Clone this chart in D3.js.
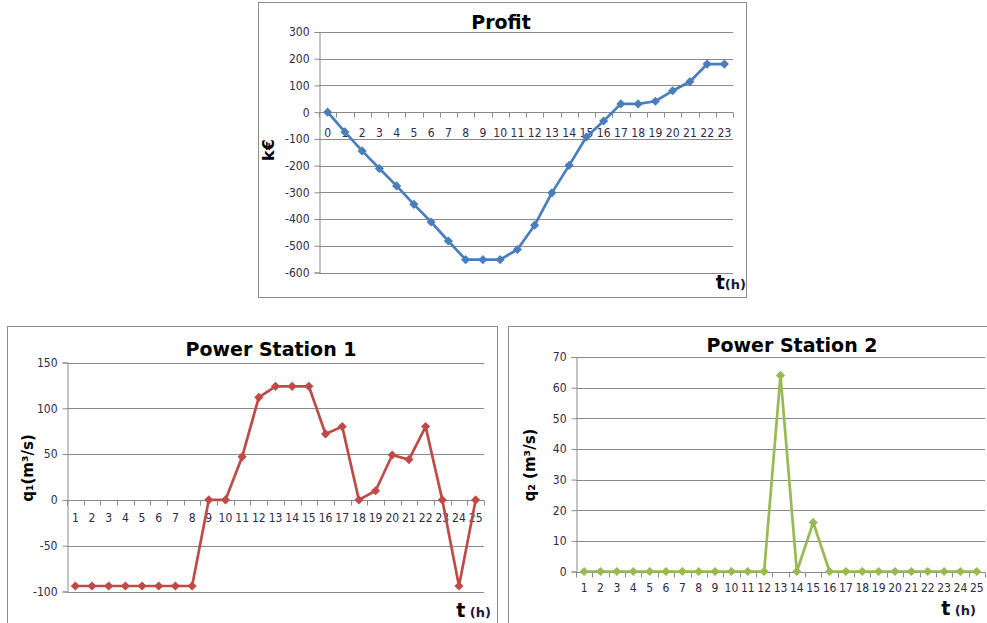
<!DOCTYPE html>
<html>
<head>
<meta charset="utf-8">
<script src="https://cdn.jsdelivr.net/npm/d3@7"></script>
<style>
  html, body { margin: 0; padding: 0; background: #fff; }
  svg { display: block; }
  text { font-family: "DejaVu Sans Condensed", "DejaVu Sans", sans-serif; }
</style>
</head>
<body>
<svg id="chart" width="987" height="623"></svg>
<script>
// ---- Data ----
const profitHours = d3.range(0, 24).map(String);
const profitValues = [0, -74, -145, -211, -276, -345, -411, -482, -552, -552, -552, -514, -423, -302, -199, -93, -33, 31, 31, 41, 80, 114, 180, 180];
const profitTicks = [300, 200, 100, 0, -100, -200, -300, -400, -500, -600];

const stationHours = d3.range(1, 26).map(String);
const station1Values = [-94, -94, -94, -94, -94, -94, -94, -94, 0, 0, 47, 112, 124, 124, 124, 72, 80, 0, 10, 49, 44, 80, 0, -94, 0];
const station1Ticks = [150, 100, 50, 0, -50, -100];
const station2Values = [0, 0, 0, 0, 0, 0, 0, 0, 0, 0, 0, 0, 64, 0, 16, 0, 0, 0, 0, 0, 0, 0, 0, 0, 0];
const station2Ticks = [70, 60, 50, 40, 30, 20, 10, 0];

const svg = d3.select("#chart");
const tickFont = '"DejaVu Sans Condensed", "DejaVu Sans", sans-serif';

function drawChart(cfg) {
  const g = svg.append("g");
  // outer border
  g.append("rect")
    .attr("x", cfg.box[0] + 0.5).attr("y", cfg.box[1] + 0.5)
    .attr("width", cfg.box[2]).attr("height", cfg.box[3])
    .attr("fill", "#fff").attr("stroke", "#8c8c8c").attr("stroke-width", 1);

  const x = d3.scaleBand().domain(cfg.cats).range([cfg.plot.left, cfg.plot.right]).padding(0);
  const y = d3.scaleLinear().domain(cfg.yDomain).range([cfg.plot.bottom, cfg.plot.top]);

  // gridlines
  g.append("g").selectAll("line").data(cfg.yTicks).join("line")
    .attr("x1", cfg.plot.left).attr("x2", cfg.plot.right)
    .attr("y1", d => Math.round(y(d)) + 0.5).attr("y2", d => Math.round(y(d)) + 0.5)
    .attr("stroke", "#8a8a8a").attr("stroke-width", 1);

  // y axis
  const yAxis = g.append("g")
    .attr("transform", `translate(${Math.round(cfg.plot.left) + 0.5},0)`)
    .call(d3.axisLeft(y).tickValues(cfg.yTicks).tickSize(5).tickPadding(5).tickFormat(d => String(d)));
  yAxis.select(".domain").attr("stroke", "#8a8a8a");
  yAxis.selectAll(".tick line").attr("stroke", "#8a8a8a");
  yAxis.selectAll(".tick text").attr("font-size", 12).attr("fill", "#2b2b4a")
    .style("font-family", tickFont);

  // category axis at y = 0
  const y0 = Math.round(y(0)) + 0.5;
  const bounds = cfg.cats.map(c => x(c)).concat([x(cfg.cats[cfg.cats.length - 1]) + x.bandwidth()]);
  g.append("g").selectAll("line").data(bounds).join("line")
    .attr("x1", d => Math.round(d) + 0.5).attr("x2", d => Math.round(d) + 0.5)
    .attr("y1", y0).attr("y2", y0 + 5)
    .attr("stroke", "#8a8a8a");
  const xAxis = g.append("g")
    .attr("transform", `translate(0,${y0})`)
    .call(d3.axisBottom(x).tickSize(0).tickPadding(cfg.xLabelPad));
  xAxis.select(".domain").remove();
  xAxis.selectAll(".tick text").attr("font-size", 12).attr("fill", "#2b2b4a")
    .style("font-family", tickFont);

  // line
  const pts = cfg.cats.map((c, i) => [x(c) + x.bandwidth() / 2, y(cfg.values[i])]);
  g.append("path")
    .attr("d", d3.line()(pts))
    .attr("fill", "none").attr("stroke", cfg.color).attr("stroke-width", 2.7)
    .attr("stroke-linejoin", "round");
  g.append("g").selectAll("path").data(pts).join("path")
    .attr("d", d3.symbol(d3.symbolSquare, 42)())
    .attr("transform", d => `translate(${d[0]},${d[1]}) rotate(45)`)
    .attr("fill", cfg.color);

  // title
  g.append("text").attr("x", cfg.title[1]).attr("y", cfg.title[2])
    .attr("text-anchor", "middle").attr("font-size", 19).attr("font-weight", "bold")
    .attr("fill", "#000").style("font-family", '"DejaVu Sans", sans-serif')
    .text(cfg.title[0]);

  // y label
  g.append("text")
    .attr("transform", `translate(${cfg.yLabel[1]},${cfg.yLabel[2]}) rotate(-90)`)
    .attr("text-anchor", "middle").attr("font-size", cfg.yLabel[3]).attr("font-weight", "bold")
    .attr("fill", "#000").style("font-family", '"DejaVu Sans", sans-serif')
    .text(cfg.yLabel[0]);

  // x label
  const xl = g.append("text").attr("x", cfg.xLabel[1]).attr("y", cfg.xLabel[2])
    .attr("text-anchor", "end").attr("font-weight", "bold")
    .style("font-family", '"DejaVu Sans", sans-serif').attr("fill", "#000");
  xl.append("tspan").attr("font-size", 19).text("t");
  xl.append("tspan").attr("font-size", 13).attr("fill", "#1a1a3a").text(cfg.xLabel[0]);
}

drawChart({
  box: [258, 2, 488, 295],
  plot: { left: 319, right: 733, top: 32, bottom: 272.5 },
  cats: profitHours, values: profitValues, yDomain: [-600, 300], yTicks: profitTicks,
  color: "#4a7ebb", xLabelPad: 16,
  title: ["Profit", 501, 29],
  yLabel: ["k€", 274, 150, 16],
  xLabel: ["(h)", 746, 289]
});

drawChart({
  box: [7, 326, 490, 310],
  plot: { left: 67, right: 484, top: 362.5, bottom: 591.5 },
  cats: stationHours, values: station1Values, yDomain: [-100, 150], yTicks: station1Ticks,
  color: "#be4b48", xLabelPad: 13,
  title: ["Power Station 1", 271, 356],
  yLabel: ["q₁(m³/s)", 33, 468, 15],
  xLabel: [" (h)", 491, 617]
});

drawChart({
  box: [508, 326, 490, 310],
  plot: { left: 576, right: 985, top: 357, bottom: 571.5 },
  cats: stationHours, values: station2Values, yDomain: [0, 70], yTicks: station2Ticks,
  color: "#98b954", xLabelPad: 11,
  title: ["Power Station 2", 792, 352],
  yLabel: ["q₂ (m³/s)", 535, 465, 15],
  xLabel: [" (h)", 976, 615]
});
</script>
</body>
</html>
